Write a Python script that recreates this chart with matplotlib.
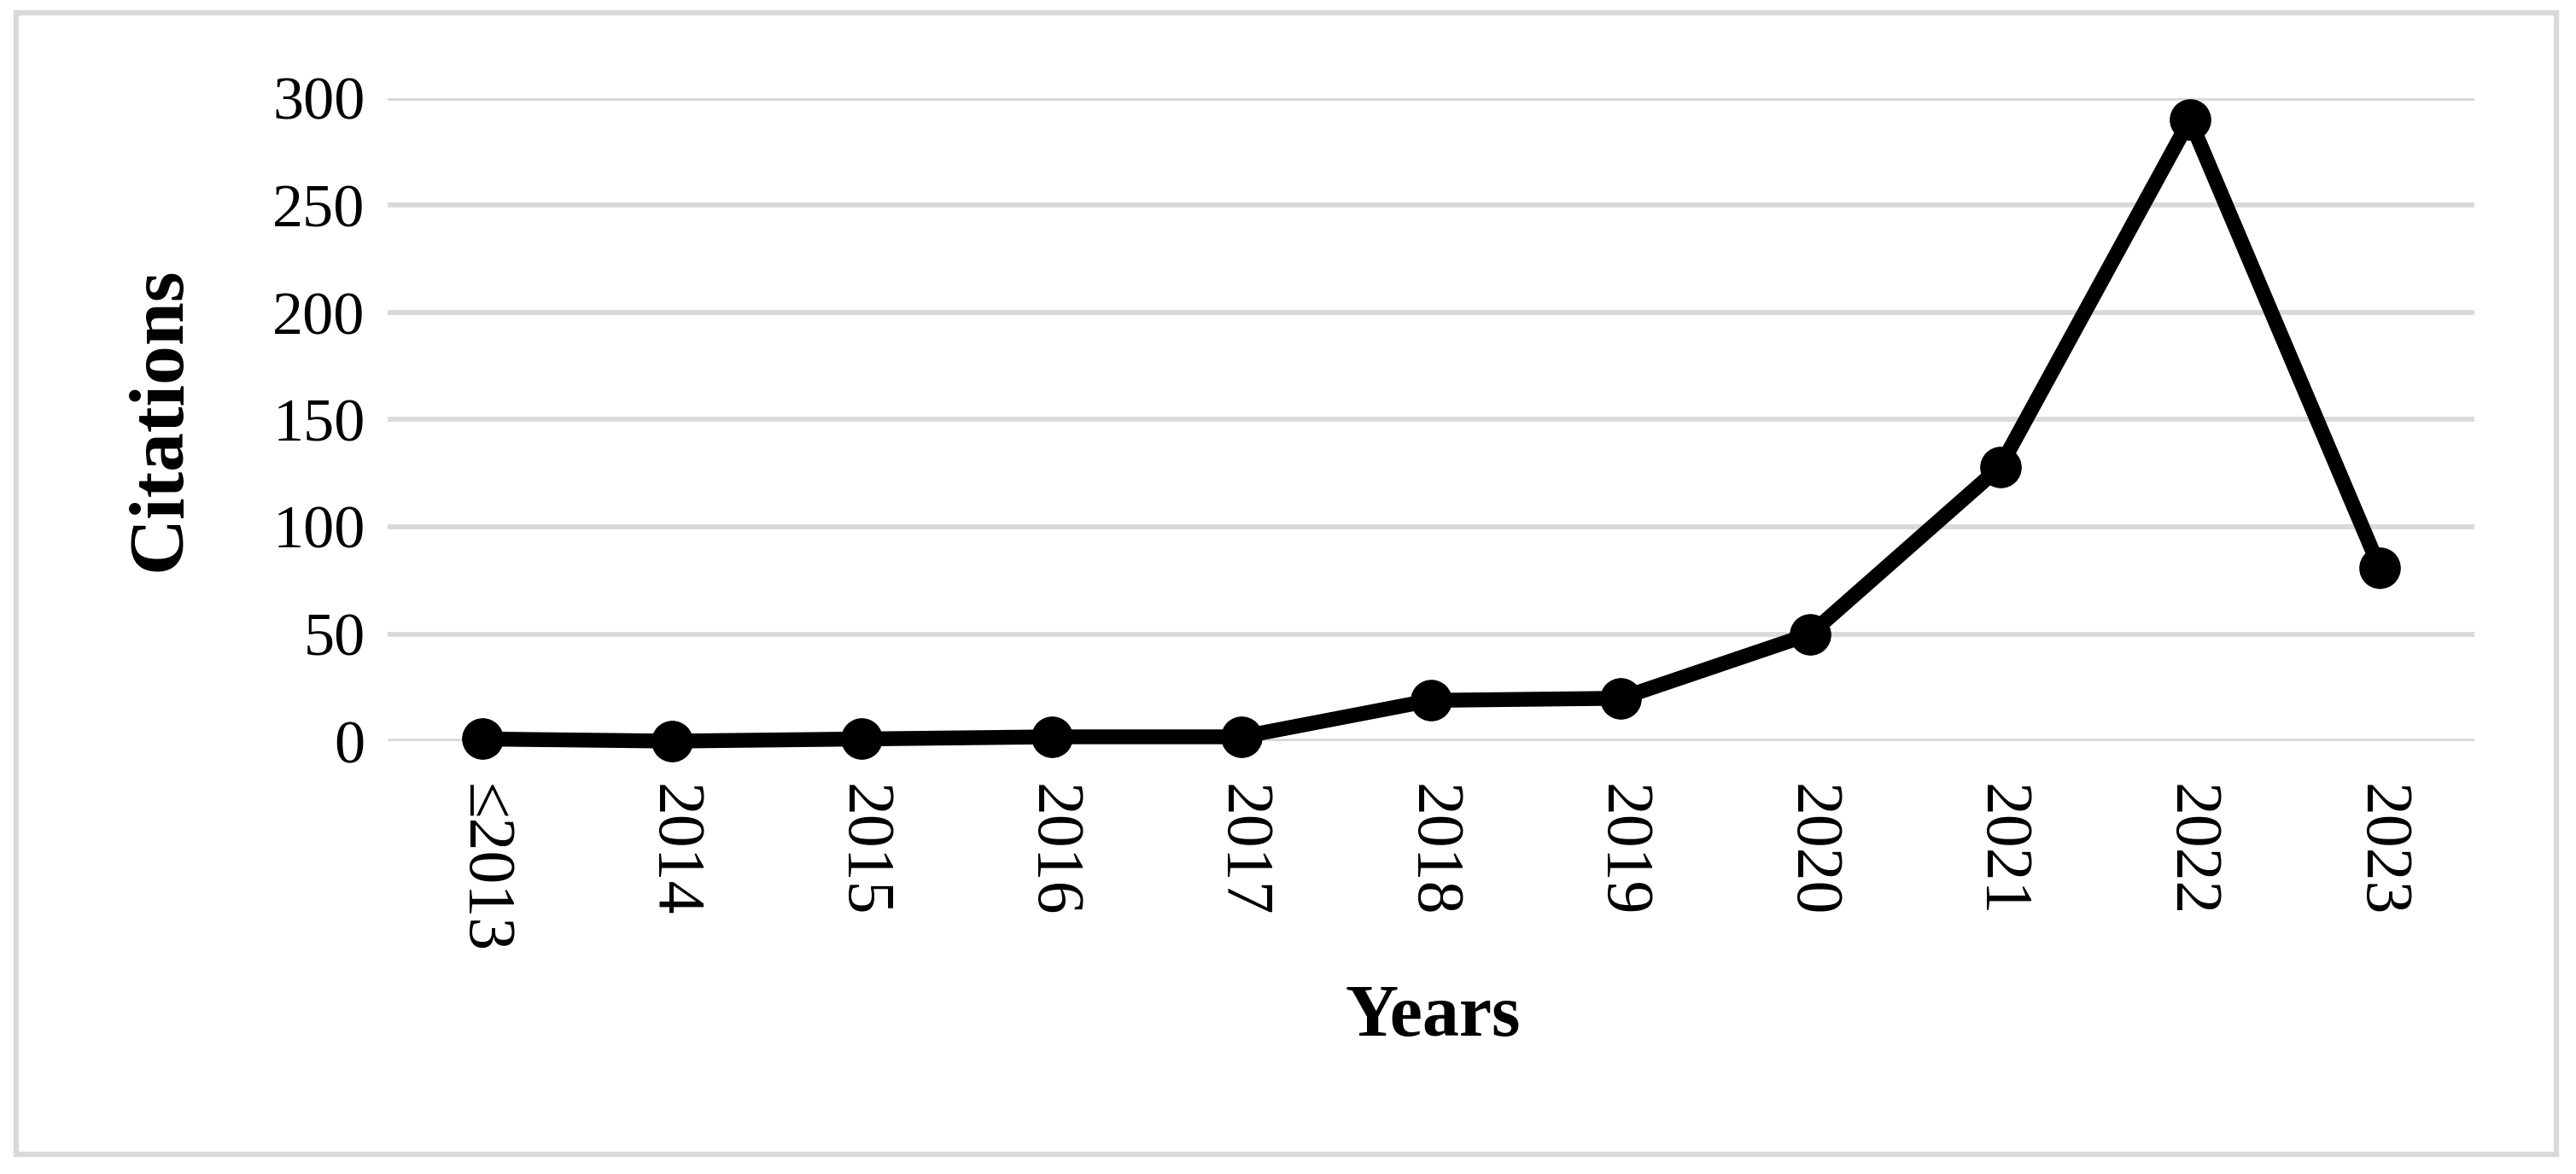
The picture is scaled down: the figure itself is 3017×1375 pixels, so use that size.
import matplotlib
matplotlib.use("Agg")
import matplotlib.pyplot as plt
from matplotlib.patches import Rectangle

plt.rcParams['font.family'] = ['Liberation Serif', 'DejaVu Serif']

years = ["≤2013", "2014", "2015", "2016", "2017", "2018", "2019", "2020", "2021", "2022", "2023"]
citations = [1, 0, 1, 2, 2, 19, 20, 50, 128, 290, 81]
yticks = [0, 50, 100, 150, 200, 250, 300]

W, H = 3017, 1375
fig = plt.figure(figsize=(W / 100, H / 100), dpi=100)
fig.patch.set_facecolor("white")

# outer border
fig.add_artist(Rectangle((19 / W, 1 - 1352 / H), (2994 - 19) / W, (1352 - 15) / H,
                         transform=fig.transFigure, fill=False,
                         edgecolor="#d9d9d9", linewidth=4.5))

left, right = 454 / W, 2898 / W
bottom, top = 1 - 868 / H, 1 - 115 / H
ax = fig.add_axes([left, bottom, right - left, top - bottom])

x = list(range(len(years)))
ax.plot(x, citations, color="black", linewidth=12.5, marker="o", markersize=34,
        solid_joinstyle="miter", zorder=3, clip_on=False)

ax.set_xlim(-0.5, len(years) - 0.5)
ax.set_ylim(0, 300)
ax.set_yticks(yticks)
ax.set_yticklabels([str(v) for v in yticks], fontsize=52)
ax.set_xticks(x)
ax.set_xticklabels(years, rotation=270, fontsize=56, va="top", ha="center")
ax.tick_params(axis="both", length=0)
ax.tick_params(axis="y", pad=19)
ax.tick_params(axis="x", pad=36)
ax.grid(axis="y", color="#d9d9d9", linewidth=4.2)
ax.set_axisbelow(True)
for s in ax.spines.values():
    s.set_visible(False)

fig.text(189 / W, 1 - 491 / H, "Citations", rotation=90, fontsize=66,
         fontweight="bold", ha="center", va="center")
fig.text(1678 / W, 1 - 1193 / H, "Years", fontsize=62, fontweight="bold",
         ha="center", va="center")

fig.savefig("out.png", dpi=100, facecolor="white")
